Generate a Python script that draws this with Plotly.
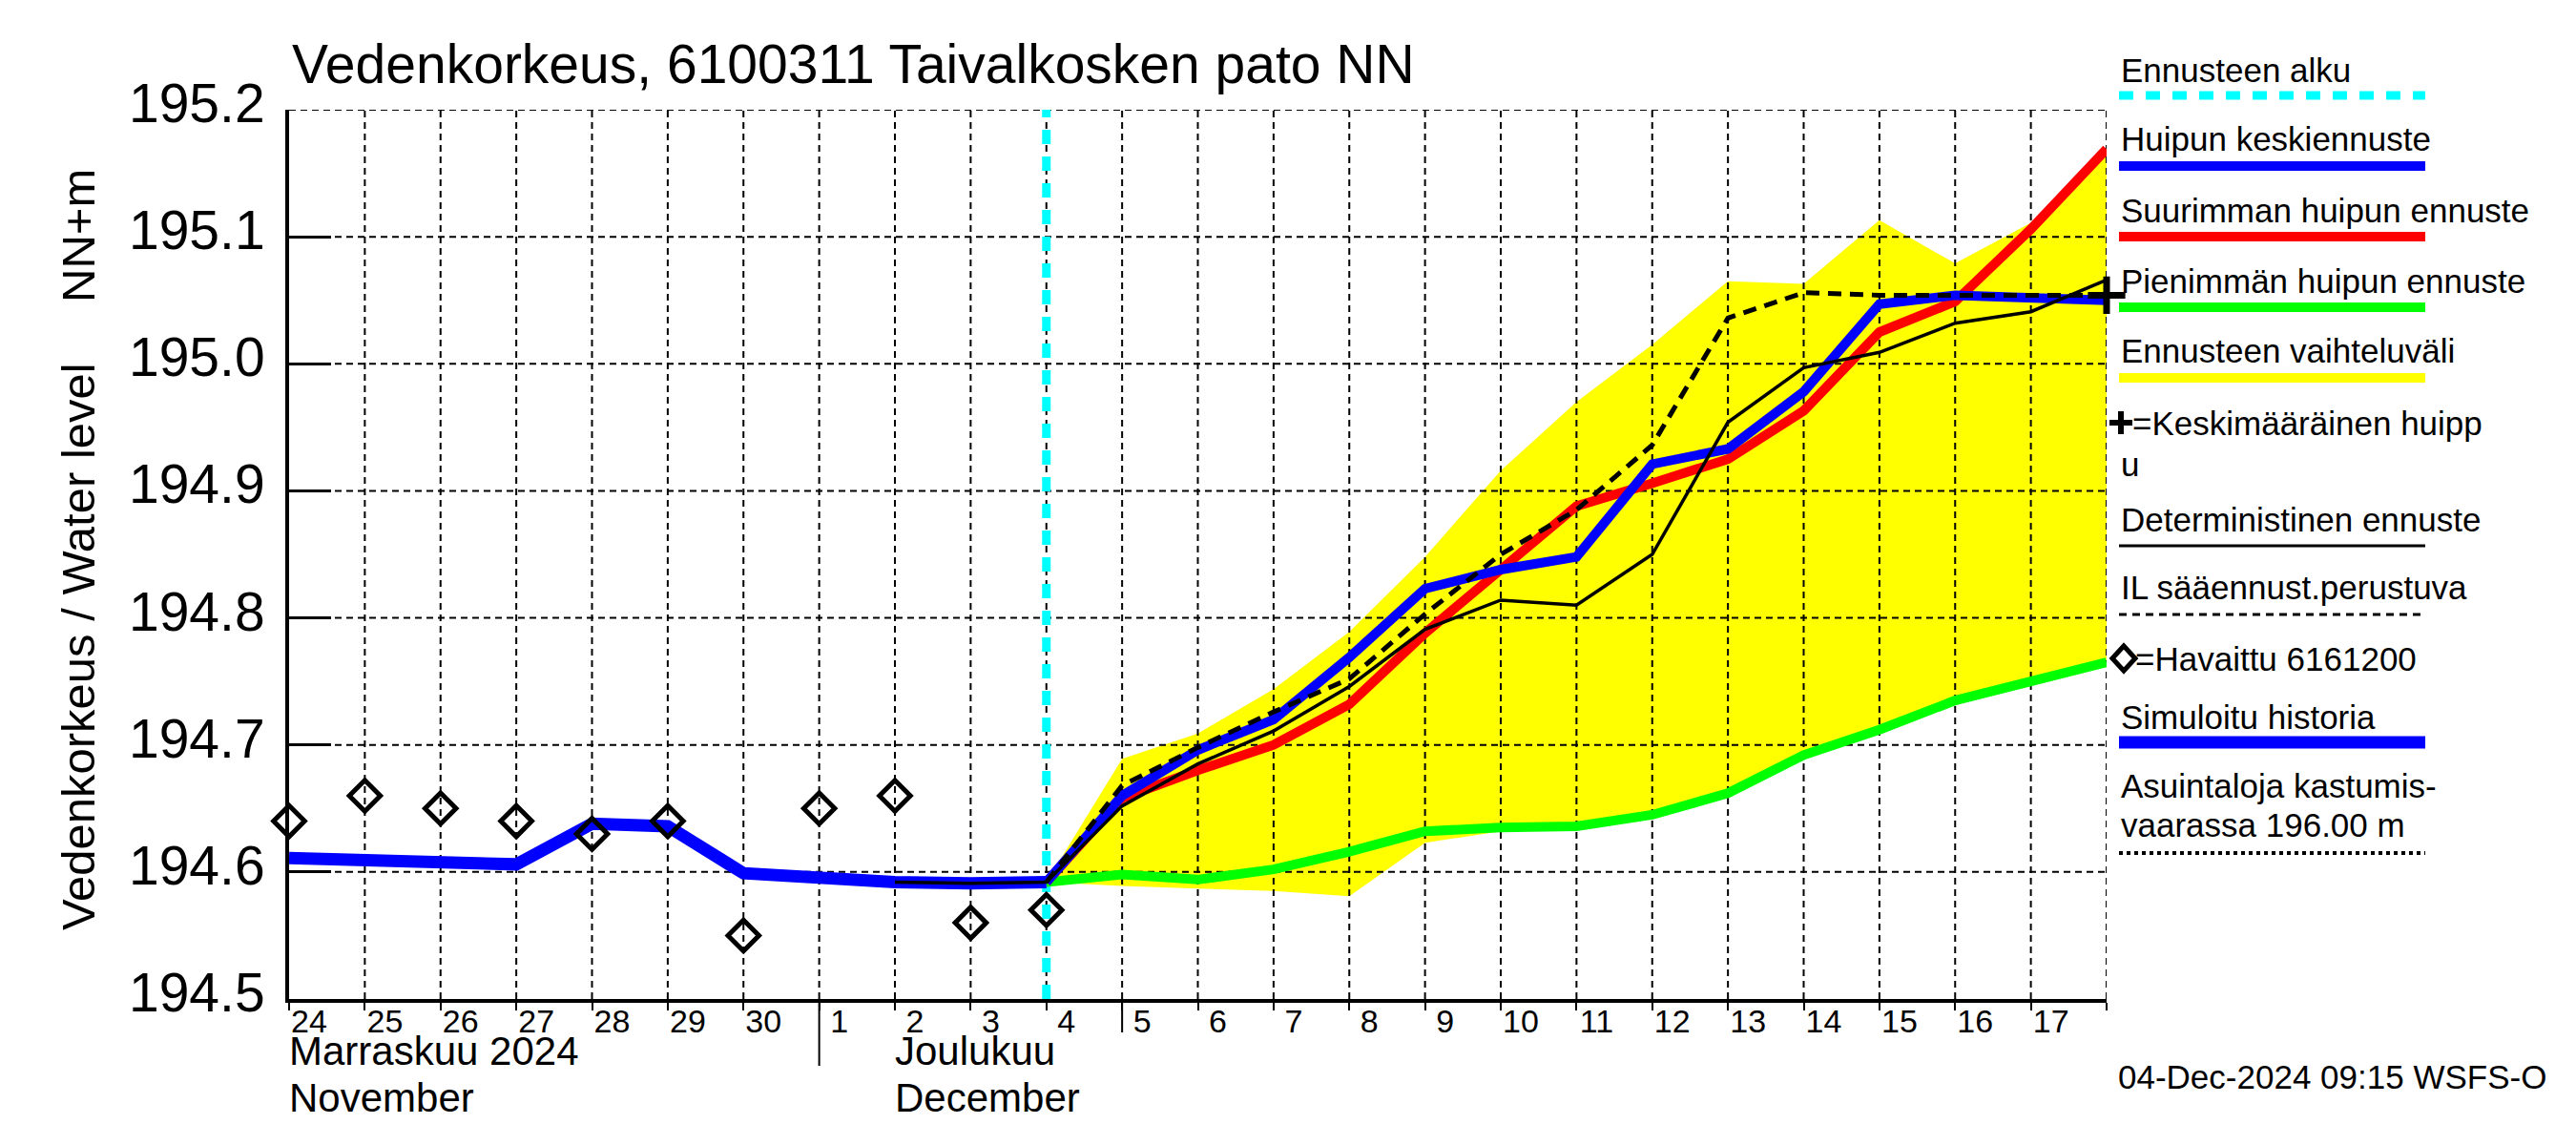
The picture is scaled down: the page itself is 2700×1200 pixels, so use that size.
import plotly.graph_objects as go
import pandas as pd

# ---------------- data ----------------
hist_dates = pd.date_range("2024-11-24", "2024-12-04", freq="D")
sim_history = [194.611, 194.609, 194.608, 194.606, 194.638, 194.636,
               194.599, 194.595, 194.592, 194.591, 194.592]
observed = [194.640, 194.660, 194.650, 194.640, 194.630, 194.640,
            194.550, 194.650, 194.660, 194.560, 194.570]

fc_dates = pd.date_range("2024-12-04", "2024-12-18", freq="D")
mean_peak_fc = [194.592, 194.660, 194.696, 194.720, 194.769, 194.823, 194.838,
                194.848, 194.921, 194.933, 194.978, 195.047, 195.054, 195.052, 195.050]
max_peak_fc = [194.592, 194.658, 194.680, 194.700, 194.732, 194.788, 194.838,
               194.888, 194.906, 194.925, 194.963, 195.025, 195.049, 195.106, 195.169]
min_peak_fc = [194.592, 194.598, 194.594, 194.602, 194.616, 194.632, 194.635,
               194.636, 194.645, 194.662, 194.692, 194.712, 194.735, 194.750, 194.765]
range_upper = [194.592, 194.689, 194.709, 194.744, 194.789, 194.848, 194.916,
               194.970, 195.015, 195.065, 195.063, 195.113, 195.079, 195.111, 195.166]
range_lower = [194.592, 194.589, 194.587, 194.585, 194.581, 194.623, 194.632,
               194.633, 194.642, 194.659, 194.689, 194.709, 194.732, 194.747, 194.762]
il_forecast = [194.592, 194.668, 194.698, 194.726, 194.752, 194.803, 194.850,
               194.885, 194.936, 195.036, 195.056, 195.054, 195.054, 195.054, 195.054]

det_dates = pd.date_range("2024-12-02", "2024-12-18", freq="D")
deterministic = [194.592, 194.591, 194.592, 194.652, 194.685, 194.711, 194.746,
                 194.791, 194.814, 194.810, 194.850, 194.954, 194.997, 195.009,
                 195.032, 195.041, 195.066]

mean_peak_date = ["2024-12-18"]
mean_peak_value = [195.054]

forecast_start = "2024-12-04"
x_start, x_end = "2024-11-24", "2024-12-18"
y_min, y_max = 194.5, 195.2
y_ticks = [194.5, 194.6, 194.7, 194.8, 194.9, 195.0, 195.1, 195.2]
day_ticks = pd.date_range(x_start, x_end, freq="D")
day_labels = [str(d.day) for d in day_ticks[:-1]] + [""]

title_text = "Vedenkorkeus, 6100311 Taivalkosken pato NN"
month_labels = [("Marraskuu 2024", "November", "2024-11-24"),
                ("Joulukuu", "December", "2024-12-02")]
legend_items = ["Ennusteen alku", "Huipun keskiennuste", "Suurimman huipun ennuste",
                "Pienimmän huipun ennuste", "Ennusteen vaihteluväli",
                "=Keskimääräinen huipp", "u", "Deterministinen ennuste",
                "IL sääennust.perustuva", "=Havaittu 6161200", "Simuloitu historia",
                "Asuintaloja kastumis-", "vaarassa 196.00 m"]
timestamp = "04-Dec-2024 09:15 WSFS-O"

# ---------------- layout geometry (reference pixels) ----------------
OFF = 8  # page body margin of the browser
W, H = 2700 - 2 * OFF, 1200 - 2 * OFF
L, R, T, B = 303, 2208, 115, 1047
FONT = "Liberation Sans, Arial, sans-serif"


def xp(px):
    return (px - L) / (R - L)


def yp(py):
    return (B - py) / (B - T)


fig = go.Figure()

# yellow range band
fig.add_trace(go.Scatter(x=fc_dates, y=range_lower, mode="lines",
                         line=dict(width=0, color="#FFFF00"), showlegend=False, hoverinfo="skip"))
fig.add_trace(go.Scatter(x=fc_dates, y=range_upper, mode="lines", fill="tonexty",
                         fillcolor="#FFFF00", line=dict(width=0, color="#FFFF00"),
                         showlegend=False, hoverinfo="skip"))

# grid lines (drawn above the band, below the lines)
gx, gy = [], []
for d in day_ticks[1:]:
    gx += [d, d, None]
    gy += [y_min, y_max, None]
fig.add_trace(go.Scatter(x=gx, y=gy, mode="lines",
                         line=dict(color="black", width=2, dash="7px,5px"),
                         showlegend=False, hoverinfo="skip"))
hx, hy = [], []
for v in y_ticks[1:]:
    hx += [day_ticks[0], day_ticks[-1], None]
    hy += [v, v, None]
fig.add_trace(go.Scatter(x=hx, y=hy, mode="lines",
                         line=dict(color="black", width=2, dash="7px,5px"),
                         showlegend=False, hoverinfo="skip"))

# forecast start line
fig.add_trace(go.Scatter(x=[forecast_start, forecast_start], y=[y_min, y_max], mode="lines",
                         line=dict(color="#00FFFF", width=9, dash="15px,13px"),
                         showlegend=False, hoverinfo="skip"))

# forecast lines
fig.add_trace(go.Scatter(x=fc_dates, y=min_peak_fc, mode="lines",
                         line=dict(color="#00FF00", width=10), showlegend=False))
fig.add_trace(go.Scatter(x=fc_dates, y=max_peak_fc, mode="lines",
                         line=dict(color="#FF0000", width=10), showlegend=False))
fig.add_trace(go.Scatter(x=fc_dates, y=mean_peak_fc, mode="lines",
                         line=dict(color="#0000FF", width=10), showlegend=False))
fig.add_trace(go.Scatter(x=hist_dates, y=sim_history, mode="lines",
                         line=dict(color="#0000FF", width=13), showlegend=False))
fig.add_trace(go.Scatter(x=det_dates, y=deterministic, mode="lines",
                         line=dict(color="black", width=3.5), showlegend=False))
fig.add_trace(go.Scatter(x=fc_dates, y=il_forecast, mode="lines",
                         line=dict(color="black", width=5, dash="14px,9px"), showlegend=False))

# observations
fig.add_trace(go.Scatter(x=hist_dates, y=observed, mode="markers",
                         marker=dict(symbol="diamond-open", size=25, color="black",
                                     line=dict(width=5, color="black")),
                         showlegend=False, cliponaxis=False))
# mean peak marker
fig.add_trace(go.Scatter(x=mean_peak_date, y=mean_peak_value, mode="markers",
                         marker=dict(symbol="cross-thin", size=28,
                                     line=dict(width=7, color="black")),
                         showlegend=False, cliponaxis=False))

fig.update_xaxes(type="date", range=[x_start, x_end], showgrid=False, zeroline=False,
                 tickvals=day_ticks, ticktext=day_labels, ticks="outside", ticklen=8,
                 tickwidth=2, tickcolor="black", showline=True, linewidth=4, linecolor="black",
                 tickfont=dict(family=FONT, size=34, color="black"),
                 ticklabelshift=21, ticklabelstandoff=-18)
fig.update_yaxes(range=[y_min, y_max], tickvals=y_ticks,
                 ticktext=[f"{v:.1f}" for v in y_ticks], showgrid=False, zeroline=False,
                 ticks="inside", ticklen=44, tickwidth=3, tickcolor="black",
                 showline=True, linewidth=4, linecolor="black",
                 tickfont=dict(family=FONT, size=57, color="black"),
                 ticklabelstandoff=10, ticklabelshift=-7)

ann = []
shapes = []

# title
ann.append(dict(text=title_text, x=xp(304), y=yp(67), xref="paper", yref="paper",
                xanchor="left", yanchor="middle", showarrow=False,
                font=dict(family=FONT, size=57, color="black")))
# y-axis titles
ann.append(dict(text="Vedenkorkeus / Water level", x=xp(82), y=yp(678), xref="paper",
                yref="paper", textangle=-90, xanchor="center", yanchor="middle",
                showarrow=False, font=dict(family=FONT, size=49, color="black")))
ann.append(dict(text="NN+m", x=xp(82), y=yp(247), xref="paper", yref="paper",
                textangle=-90, xanchor="center", yanchor="middle", showarrow=False,
                font=dict(family=FONT, size=49, color="black")))
# month labels
for fi, en, d in month_labels:
    ann.append(dict(text=fi, x=d, y=yp(1101), xref="x", yref="paper",
                    xanchor="left", yanchor="middle", showarrow=False, xshift=-2,
                    font=dict(family=FONT, size=42, color="black")))
    ann.append(dict(text=en, x=d, y=yp(1150), xref="x", yref="paper",
                    xanchor="left", yanchor="middle", showarrow=False, xshift=-2,
                    font=dict(family=FONT, size=42, color="black")))
# month separator and forecast-day tick
shapes.append(dict(type="line", xref="x", yref="paper", x0="2024-12-01", x1="2024-12-01",
                   y0=0, y1=yp(1117), line=dict(color="black", width=2)))
shapes.append(dict(type="line", xref="x", yref="paper", x0="2024-12-05", x1="2024-12-05",
                   y0=0, y1=yp(1082), line=dict(color="black", width=2)))

# legend
LX0, LX1, TX = 2221, 2542, 2221
leg_font = dict(family=FONT, size=35, color="black")


def leg_text(txt, py, px=TX):
    ann.append(dict(text=txt, x=xp(px), y=yp(py), xref="paper", yref="paper",
                    xanchor="left", yanchor="middle", showarrow=False, font=leg_font))


def leg_line(py, color, width, dash="solid"):
    shapes.append(dict(type="line", xref="paper", yref="paper", x0=xp(LX0), x1=xp(LX1),
                       y0=yp(py), y1=yp(py), line=dict(color=color, width=width, dash=dash)))


leg_text(legend_items[0], 74); leg_line(100, "#00FFFF", 9, "15px,13px")
leg_text(legend_items[1], 146); leg_line(174, "#0000FF", 10)
leg_text(legend_items[2], 220); leg_line(248, "#FF0000", 10)
leg_text(legend_items[3], 294); leg_line(322, "#00FF00", 10)
leg_text(legend_items[4], 367); leg_line(396, "#FFFF00", 10)
# plus symbol
shapes.append(dict(type="line", xref="paper", yref="paper", x0=xp(2211), x1=xp(2235),
                   y0=yp(443), y1=yp(443), line=dict(color="black", width=6)))
shapes.append(dict(type="line", xref="paper", yref="paper", x0=xp(2223), x1=xp(2223),
                   y0=yp(431), y1=yp(455), line=dict(color="black", width=6)))
leg_text(legend_items[5], 443, 2233)
leg_text(legend_items[6], 487)
leg_text(legend_items[7], 544); leg_line(572, "black", 3)
leg_text(legend_items[8], 615); leg_line(644, "black", 3, "8px,6px")
# diamond symbol
dx, dy = 2226, 690
path = (f"M {xp(dx-12)},{yp(dy)} L {xp(dx)},{yp(dy-13)} L {xp(dx+12)},{yp(dy)} "
        f"L {xp(dx)},{yp(dy+13)} Z")
shapes.append(dict(type="path", xref="paper", yref="paper", path=path,
                   line=dict(color="black", width=5)))
leg_text(legend_items[9], 690, 2236)
leg_text(legend_items[10], 751); leg_line(778, "#0000FF", 13)
leg_text(legend_items[11], 823)
leg_text(legend_items[12], 864); leg_line(894, "black", 4, "dot")

ann.append(dict(text=timestamp, x=xp(2218), y=yp(1128), xref="paper", yref="paper",
                xanchor="left", yanchor="middle", showarrow=False, font=leg_font))

fig.update_layout(width=W, height=H,
                  margin=dict(l=L - OFF, r=W - (R - OFF), t=T - OFF, b=H - (B - OFF)),
                  paper_bgcolor="white", plot_bgcolor="white", showlegend=False,
                  annotations=ann, shapes=shapes,
                  font=dict(family=FONT, color="black"))

fig.write_html("out.html")
